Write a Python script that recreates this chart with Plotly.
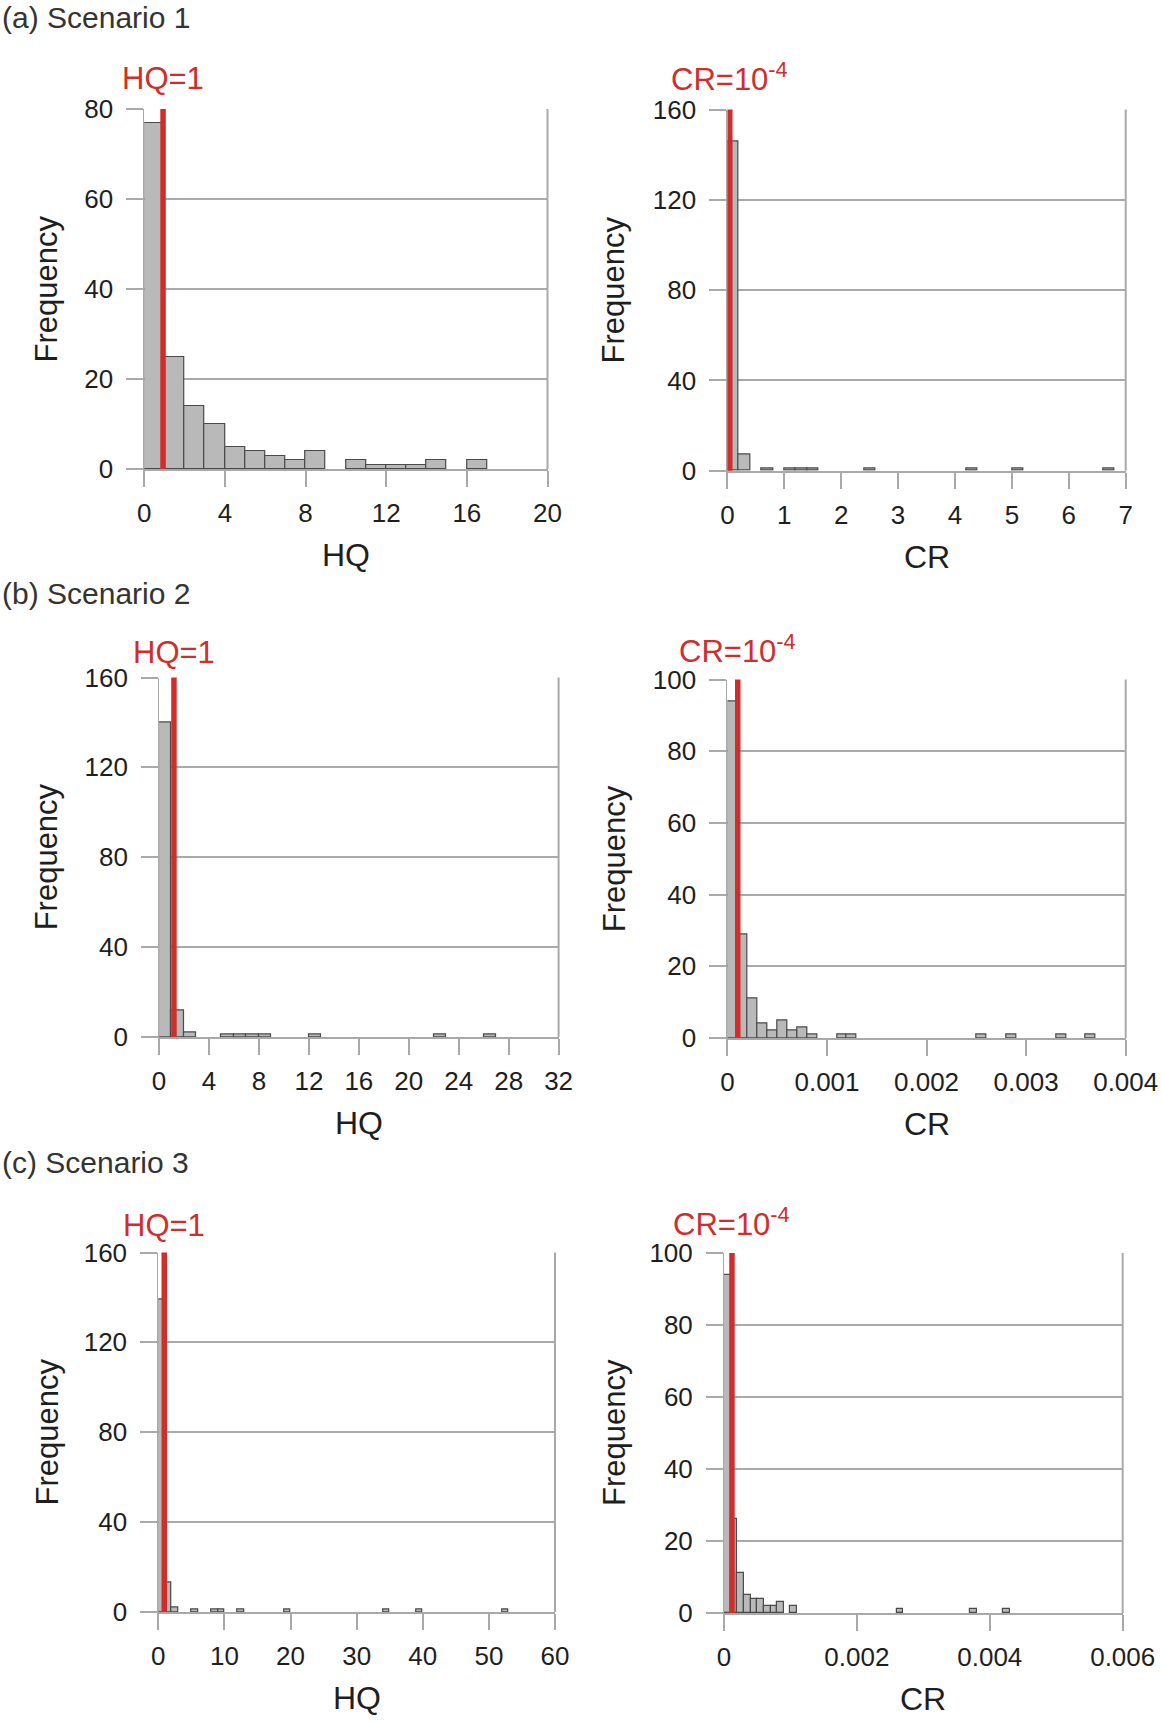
import plotly.graph_objects as go

# ---------------- data ----------------
# Scenario 1
hq1_edges = [0, 1, 2, 3, 4, 5, 6, 7, 8, 10, 11, 12, 13, 14, 16]
hq1_counts = [77, 25, 14, 10, 5, 4, 3, 2, 4, 2, 1, 1, 1, 2, 2]
hq1_bin = 1
cr1_edges = [0, 0.2, 0.6, 1.0, 1.2, 1.4, 2.4, 4.2, 5.0, 6.6]
cr1_counts = [146, 7, 1, 1, 1, 1, 1, 1, 1, 1]
cr1_bin = 0.2

# Scenario 2
hq2_edges = [0, 1, 2, 5, 6, 7, 8, 12, 22, 26]
hq2_counts = [140, 12, 2, 1, 1, 1, 1, 1, 1, 1]
hq2_bin = 1
cr2_edges = [0, 0.0001, 0.0002, 0.0003, 0.0004, 0.0005, 0.0006, 0.0007, 0.0008,
             0.0011, 0.0012, 0.0025, 0.0028, 0.0033, 0.0036]
cr2_counts = [94, 29, 11, 4, 2, 5, 2, 3, 1, 1, 1, 1, 1, 1, 1]
cr2_bin = 0.0001

# Scenario 3
hq3_edges = [0, 1, 2, 5, 8, 9, 12, 19, 34, 39, 52]
hq3_counts = [139, 13, 2, 1, 1, 1, 1, 1, 1, 1, 1]
hq3_bin = 1
cr3_edges = [0, 0.0001, 0.0002, 0.0003, 0.0004, 0.0005, 0.0006, 0.0007, 0.0008,
             0.0010, 0.0026, 0.0037, 0.0042]
cr3_counts = [94, 26, 11, 5, 4, 4, 2, 2, 3, 2, 1, 1, 1]
cr3_bin = 0.0001

# threshold lines (as drawn in the reference)
hq_line = [0.93, 1.19, 0.9]
cr_line = [0.042, 0.000104, 0.00012]

# ticks
hq1_ticks = [0, 4, 8, 12, 16, 20]
hq2_ticks = [0, 4, 8, 12, 16, 20, 24, 28, 32]
hq3_ticks = [0, 10, 20, 30, 40, 50, 60]
cr1_ticks = [0, 1, 2, 3, 4, 5, 6, 7]
cr2_ticks = [0, 0.001, 0.002, 0.003, 0.004]
cr2_ticktext = ["0", "0.001", "0.002", "0.003", "0.004"]
cr3_ticks = [0, 0.002, 0.004, 0.006]
cr3_ticktext = ["0", "0.002", "0.004", "0.006"]
freq80_ticks = [0, 20, 40, 60, 80]
freq160_ticks = [0, 40, 80, 120, 160]
freq100_ticks = [0, 20, 40, 60, 80, 100]

scenario_titles = ["(a) Scenario 1", "(b) Scenario 2", "(c) Scenario 3"]

# ---------------- layout geometry (window pixels) ----------------
W, H = 1162, 1723
FONT = "Liberation Sans, Arial, Helvetica, sans-serif"
GRID = "#a9a9a9"
RED = "#cf2e2b"
TXT = "#1e1e1e"


def fx(px):
    return px / W


def fy(py):
    return 1 - py / H


panels = [
    dict(edges=hq1_edges, counts=hq1_counts, bw=hq1_bin, xt=hq1_ticks, xtt=None,
         yt=freq80_ticks, line=hq_line[0], label="HQ=1", xtitle="HQ",
         px=(144.3, 547.5), py=(109.1, 469.1), yts=-98, lab=31),
    dict(edges=cr1_edges, counts=cr1_counts, bw=cr1_bin, xt=cr1_ticks, xtt=None,
         yt=freq160_ticks, line=cr_line[0], label="CR=10<sup>-4</sup>", xtitle="CR",
         px=(727.4, 1125.7), py=(109.5, 470.7), yts=-114, lab=33),
    dict(edges=hq2_edges, counts=hq2_counts, bw=hq2_bin, xt=hq2_ticks, xtt=None,
         yt=freq160_ticks, line=hq_line[1], label="HQ=1", xtitle="HQ",
         px=(159.1, 558.6), py=(677.5, 1037.0), yts=-113, lab=25),
    dict(edges=cr2_edges, counts=cr2_counts, bw=cr2_bin, xt=cr2_ticks, xtt=cr2_ticktext,
         yt=freq100_ticks, line=cr_line[1], label="CR=10<sup>-4</sup>", xtitle="CR",
         px=(727.4, 1125.7), py=(679.5, 1038.0), yts=-113, lab=31),
    dict(edges=hq3_edges, counts=hq3_counts, bw=hq3_bin, xt=hq3_ticks, xtt=None,
         yt=freq160_ticks, line=hq_line[2], label="HQ=1", xtitle="HQ",
         px=(158.3, 555.0), py=(1252.5, 1612.0), yts=-111, lab=27),
    dict(edges=cr3_edges, counts=cr3_counts, bw=cr3_bin, xt=cr3_ticks, xtt=cr3_ticktext,
         yt=freq100_ticks, line=cr_line[2], label="CR=10<sup>-4</sup>", xtitle="CR",
         px=(724.0, 1122.7), py=(1253.0, 1613.0), yts=-110, lab=31),
]

fig = go.Figure()
shapes = []
annotations = []

for i, p in enumerate(panels, start=1):
    sfx = "" if i == 1 else str(i)
    xa, ya = "x" + sfx, "y" + sfx
    centers = [e + p["bw"] / 2 for e in p["edges"]]
    fig.add_trace(go.Bar(
        x=centers, y=p["counts"], width=p["bw"], xaxis=xa, yaxis=ya,
        marker=dict(color="#b9b9b9", line=dict(color="#4a4a4a", width=1.2)),
        showlegend=False, hoverinfo="x+y",
    ))
    xdom = [fx(p["px"][0]), fx(p["px"][1])]
    ydom = [fy(p["py"][1]), fy(p["py"][0])]
    xaxis = dict(
        domain=xdom, anchor=ya, range=[0, p["xt"][-1]], automargin=False,
        tickmode="array", tickvals=p["xt"],
        showgrid=False, zeroline=False, showline=True, linecolor=GRID, linewidth=2,
        ticks="outside", ticklen=16, tickwidth=2, tickcolor=GRID,
        tickfont=dict(family=FONT, size=26, color=TXT), ticklabelstandoff=4,
        fixedrange=True,
    )
    if p["xtt"] is not None:
        xaxis["ticktext"] = p["xtt"]
    yaxis = dict(
        domain=ydom, anchor=xa, range=[0, p["yt"][-1]], automargin=False,
        tickmode="array", tickvals=p["yt"],
        showgrid=True, gridcolor=GRID, gridwidth=2, zeroline=False,
        showline=True, linecolor=GRID, linewidth=1,
        ticks="outside", ticklen=17, tickwidth=2, tickcolor=GRID,
        tickfont=dict(family=FONT, size=26, color=TXT), ticklabelstandoff=8,
        fixedrange=True,
    )
    fig.update_layout({"xaxis" + sfx: xaxis, "yaxis" + sfx: yaxis})

    # right border of the frame
    shapes.append(dict(type="line", xref=xa + " domain", yref=ya + " domain",
                       x0=1, x1=1, y0=0, y1=1, line=dict(color=GRID, width=2), layer="below"))
    # threshold line
    shapes.append(dict(type="line", xref=xa, yref=ya + " domain",
                       x0=p["line"], x1=p["line"], y0=0, y1=1,
                       line=dict(color=RED, width=5.5), layer="above"))
    # threshold label
    annotations.append(dict(text=p["label"], xref=xa, yref=ya + " domain",
                            x=p["line"], y=1, yshift=p["lab"], xanchor="center", yanchor="middle",
                            showarrow=False, font=dict(family=FONT, size=31, color=RED)))
    # axis titles
    annotations.append(dict(text=p["xtitle"], xref=xa + " domain", yref=ya + " domain",
                            x=0.5, y=0, yshift=-86, xanchor="center", yanchor="middle",
                            showarrow=False, font=dict(family=FONT, size=32, color=TXT)))
    annotations.append(dict(text="Frequency", xref=xa + " domain", yref=ya + " domain",
                            x=0, y=0.5, xshift=p["yts"], xanchor="center", yanchor="middle",
                            textangle=-90, showarrow=False,
                            font=dict(family=FONT, size=31, color=TXT)))

# scenario titles
for t, ypx in zip(scenario_titles, [17, 593, 1162]):
    annotations.append(dict(text=t, xref="paper", yref="paper", x=0, y=fy(ypx),
                            xanchor="left", yanchor="middle", showarrow=False,
                            font=dict(family=FONT, size=30, color="#333333")))

fig.update_layout(
    width=W, height=H, margin=dict(l=0, r=0, t=0, b=0, autoexpand=False),
    paper_bgcolor="white", plot_bgcolor="white",
    barmode="overlay", bargap=0,
    shapes=shapes, annotations=annotations, showlegend=False,
)

# let the figure fill the browser window exactly (no default page margin)
page_css = ("document.documentElement.style.margin='0';"
            "document.body.style.margin='0';"
            "document.body.style.overflow='hidden';")
fig.write_html("out.html", post_script=page_css, config={"displayModeBar": False})
